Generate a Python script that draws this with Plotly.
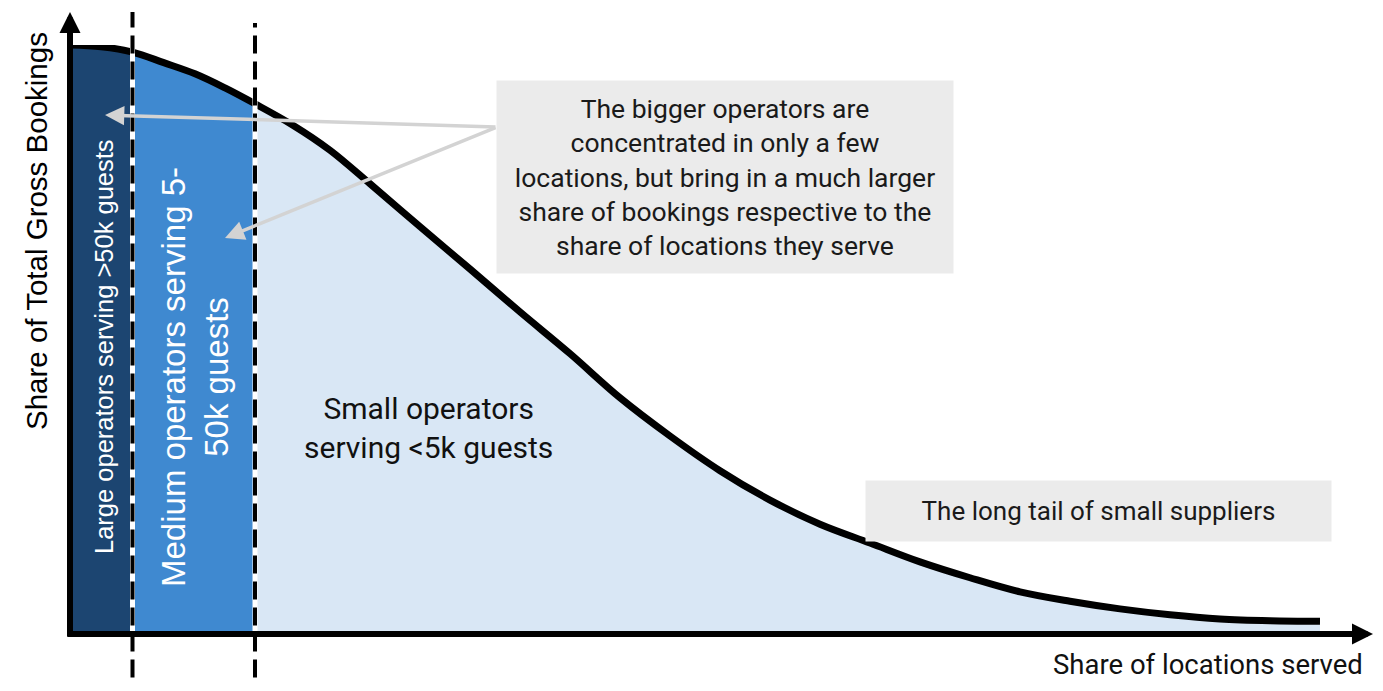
import plotly.graph_objects as go
import numpy as np

# ---- data ----
loc_share = [0, 2.5, 5.0, 7.5, 10.0, 12.4, 14.8, 17.8, 20.8, 24, 28, 32, 36, 40, 44,
             48, 52, 56, 60, 64, 68, 72, 76, 80, 84, 88, 92, 96, 100]
bookings = [100.0, 99.7, 98.8, 97.0, 95.1, 92.7, 90.0, 86.4, 82.1, 76.4, 69.1, 61.9, 54.6, 47.5, 40.0,
            33.5, 27.6, 22.6, 18.5, 15.3, 12.1, 9.4, 7.0, 5.4, 4.1, 3.1, 2.4, 2.1, 2.0]
segment_bounds = [0, 5.0, 14.8, 100]
segment_names = ["Large operators", "Medium operators", "Small operators"]
segment_colors = ["#1c4571", "#3f89d0", "#d9e7f5"]

x_title = "Share of locations served"
y_title = "Share of Total Gross Bookings"
label_large = "Large operators serving >50k guests"
label_medium = "Medium operators serving 5-<br>50k guests"
label_small = "Small operators<br>serving <5k guests"
note_big = ("The bigger operators are<br>concentrated in only a few<br>locations, but bring in a much larger"
            "<br>share of bookings respective to the<br>share of locations they serve")
note_tail = "The long tail of small suppliers"

# page has an 8px body margin -> figure is drawn 8px in from the window edge
OFF = 8
W, H = 1383 - 2 * OFF, 691 - 2 * OFF
X0, X1, Y0, Y1 = 70, 1320, 633, 45          # window pixel positions of axis ranges
ML, MR = X0 - OFF, W - (X1 - OFF)
MT, MB = Y1 - OFF, H - (Y0 - OFF)
PW, PH = X1 - X0, Y0 - Y1

xs = np.array(loc_share, dtype=float)
ys = np.array(bookings, dtype=float)

fig = go.Figure()
for i, name in enumerate(segment_names):
    lo, hi = segment_bounds[i], segment_bounds[i + 1]
    m = (xs >= lo) & (xs <= hi)
    fig.add_trace(go.Scatter(x=xs[m], y=ys[m], mode="lines", fill="tozeroy",
                             fillcolor=segment_colors[i], line=dict(width=0, shape="spline"),
                             name=name, hoverinfo="skip", showlegend=False))

fig.add_trace(go.Scatter(x=xs, y=ys, mode="lines", line=dict(color="black", width=7, shape="spline"),
                         showlegend=False, hoverinfo="skip"))


def px2paper_x(px):
    return (px - X0) / PW


def px2paper_y(py):
    return (Y0 - py) / PH


shapes = []
for b, top in zip(segment_bounds[1:3], [12, 23]):
    shapes.append(dict(type="line", xref="x", yref="paper", x0=b, x1=b, y0=-0.12, y1=px2paper_y(top),
                       line=dict(color="white", width=5), layer="above"))
    shapes.append(dict(type="line", xref="x", yref="paper", x0=b, x1=b, y0=-0.12, y1=px2paper_y(top),
                       line=dict(color="black", width=4, dash="18px,8px"), layer="above"))

ann = []
# axes arrows
ann.append(dict(xref="paper", yref="paper", x=px2paper_x(70), y=px2paper_y(12), ax=0, ay=626,
                showarrow=True, arrowhead=2, arrowsize=0.7, arrowwidth=6, arrowcolor="black", text=""))
ann.append(dict(xref="paper", yref="paper", x=px2paper_x(1373), y=px2paper_y(634), ax=-1307, ay=0,
                showarrow=True, arrowhead=2, arrowsize=0.7, arrowwidth=6, arrowcolor="black", text=""))

C = dict(xanchor="center", yanchor="middle", showarrow=False)
# axis titles
ann.append(dict(xref="paper", yref="paper", x=px2paper_x(36), y=px2paper_y(231), text=y_title,
                textangle=-90, font=dict(family="Liberation Sans", size=29.5, color="black"), **C))
ann.append(dict(xref="paper", yref="paper", x=px2paper_x(1364), y=px2paper_y(664), text=x_title,
                xanchor="right", yanchor="middle", showarrow=False, borderpad=0,
                font=dict(family="Roboto", size=27.5, color="#111111")))
# region labels
ann.append(dict(xref="paper", yref="paper", x=px2paper_x(104), y=px2paper_y(347), text=label_large,
                textangle=-90, font=dict(family="Liberation Sans", size=25.5, color="white"), **C))
ann.append(dict(xref="paper", yref="paper", x=px2paper_x(195), y=px2paper_y(377), text=label_medium,
                textangle=-90, font=dict(family="Liberation Sans", size=33, color="white"), **C))
ann.append(dict(xref="paper", yref="paper", x=px2paper_x(428), y=px2paper_y(428), text=label_small,
                font=dict(family="Roboto", size=30, color="#111111"), **C))
# note boxes
ann.append(dict(xref="paper", yref="paper", x=px2paper_x(725), y=px2paper_y(177), text=note_big,
                width=452, height=188, bgcolor="#ebebeb", borderpad=2,
                font=dict(family="Roboto", size=26.5, color="#1a1a1a"), **C))
ann.append(dict(xref="paper", yref="paper", x=px2paper_x(1098), y=px2paper_y(511), text=note_tail,
                width=461, height=56, bgcolor="#ebebeb", borderpad=2,
                font=dict(family="Roboto", size=26, color="#1a1a1a"), **C))
# grey pointer arrows
for tip in [(105, 115), (225, 238)]:
    ann.append(dict(xref="paper", yref="paper", x=px2paper_x(tip[0]), y=px2paper_y(tip[1]),
                    ax=497 - tip[0], ay=127 - tip[1], showarrow=True, arrowhead=2, arrowsize=1.1,
                    arrowwidth=3.5, arrowcolor="#d3d3d3", text=""))

fig.update_layout(width=W, height=H, margin=dict(l=ML, r=MR, t=MT, b=MB),
                  paper_bgcolor="white", plot_bgcolor="white",
                  xaxis=dict(range=[0, 100], visible=False, fixedrange=True),
                  yaxis=dict(range=[0, 100], visible=False, fixedrange=True),
                  shapes=shapes, annotations=ann, showlegend=False)

fig.write_html("out.html")
